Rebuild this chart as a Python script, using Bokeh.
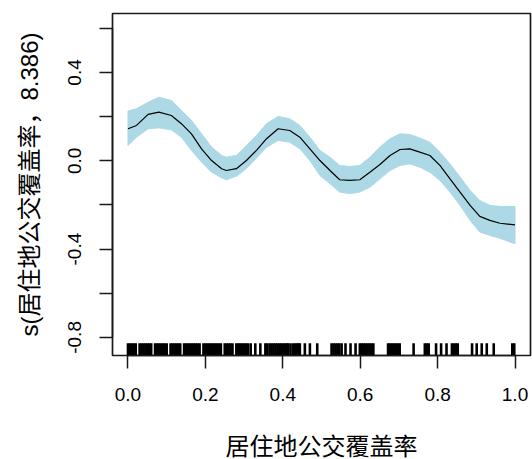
from bokeh.plotting import figure
from bokeh.models import Range1d, FixedTicker, NumeralTickFormatter
from bokeh.embed import file_html
from bokeh.resources import INLINE

# smooth term estimate and confidence band
xs = [0.000, 0.022, 0.052, 0.080, 0.112, 0.138, 0.164, 0.190, 0.216, 0.242,
      0.254, 0.280, 0.306, 0.332, 0.358, 0.388, 0.418, 0.444, 0.470, 0.496,
      0.522, 0.547, 0.573, 0.599, 0.625, 0.651, 0.677, 0.703, 0.728, 0.754,
      0.780, 0.806, 0.832, 0.858, 0.884, 0.909, 0.935, 0.961, 1.000]
fit = [0.145, 0.160, 0.210, 0.220, 0.205, 0.168, 0.122, 0.054, 0.001, -0.036,
       -0.044, -0.036, 0.001, 0.047, 0.100, 0.145, 0.137, 0.107, 0.054, 0.001,
       -0.044, -0.086, -0.089, -0.086, -0.052, -0.017, 0.024, 0.051, 0.054, 0.039,
       0.024, -0.021, -0.082, -0.142, -0.202, -0.252, -0.270, -0.283, -0.290]
upper = [0.225, 0.236, 0.265, 0.288, 0.273, 0.228, 0.183, 0.122, 0.062, 0.024,
         0.016, 0.024, 0.069, 0.115, 0.168, 0.201, 0.190, 0.160, 0.107, 0.047,
         0.016, -0.021, -0.026, -0.021, 0.016, 0.062, 0.100, 0.122, 0.119, 0.103,
         0.084, 0.039, -0.014, -0.074, -0.135, -0.180, -0.202, -0.207, -0.207]
lower = [0.069, 0.107, 0.145, 0.149, 0.140, 0.107, 0.047, -0.006, -0.052, -0.077,
         -0.086, -0.070, -0.035, 0.012, 0.061, 0.092, 0.084, 0.054, 0.001, -0.067,
         -0.104, -0.142, -0.149, -0.142, -0.120, -0.082, -0.044, -0.021, -0.014, -0.029,
         -0.052, -0.089, -0.142, -0.202, -0.270, -0.323, -0.338, -0.351, -0.376]

# rug of observed covariate values
rug = [0.000, 0.005, 0.010, 0.015, 0.020, 0.030, 0.035, 0.040, 0.045, 0.050,
       0.055, 0.060, 0.070, 0.075, 0.080, 0.085, 0.090, 0.095, 0.100, 0.110,
       0.115, 0.120, 0.125, 0.130, 0.135, 0.145, 0.150, 0.155, 0.160, 0.165,
       0.170, 0.175, 0.180, 0.185, 0.195, 0.200, 0.205, 0.210, 0.215, 0.220,
       0.225, 0.230, 0.235, 0.240, 0.250, 0.255, 0.260, 0.265, 0.270, 0.280,
       0.285, 0.290, 0.295, 0.300, 0.305, 0.310, 0.317, 0.329, 0.342, 0.355,
       0.360, 0.366, 0.371, 0.376, 0.381, 0.386, 0.391, 0.396, 0.401, 0.406,
       0.411, 0.414, 0.420, 0.427, 0.432, 0.437, 0.441, 0.444, 0.457, 0.470,
       0.489, 0.526, 0.531, 0.536, 0.541, 0.546, 0.552, 0.562, 0.575, 0.588,
       0.599, 0.604, 0.609, 0.614, 0.619, 0.624, 0.629, 0.634, 0.672, 0.677,
       0.682, 0.687, 0.692, 0.697, 0.702, 0.738, 0.767, 0.772, 0.777, 0.796,
       0.809, 0.823, 0.837, 0.842, 0.847, 0.852, 0.889, 0.901, 0.914, 0.927,
       0.945, 0.993, 0.998]

x_ticks = [0.0, 0.2, 0.4, 0.6, 0.8, 1.0]
y_ticks = [-0.8, -0.6, -0.4, -0.2, 0.0, 0.2, 0.4, 0.6]
y_hidden = [-0.6, -0.2, 0.2, 0.6]

x_title = "居住地公交覆盖率"
y_title = "s(居住地公交覆盖率，8.386)"

Y0, Y1 = -0.882, 0.667

p = figure(width=532, height=459, output_backend="svg", toolbar_location=None,
           x_range=Range1d(-0.04, 1.04), y_range=Range1d(Y0, Y1),
           frame_width=418, frame_height=342,
           min_border_left=112, min_border_right=2, min_border_top=13, min_border_bottom=104)
p.background_fill_color = "white"
p.border_fill_color = "white"
p.grid.visible = False
p.outline_line_color = "#1a1a1a"
p.outline_line_width = 1.7

band_x = xs + xs[::-1]
band_y = upper + lower[::-1]
p.patch(band_x, band_y, fill_color="#ADD8E6", line_color="#ADD8E6", line_width=1)
p.line(xs, fit, line_color="black", line_width=1.2)

rug_len = 0.055
p.segment(x0=rug, y0=[Y0] * len(rug), x1=rug, y1=[Y0 + rug_len] * len(rug),
          line_color="black", line_width=2.6)

FONT = "Liberation Sans, Noto Sans CJK SC"
for ax in (p.xaxis[0], p.yaxis[0]):
    ax.axis_line_color = "#1a1a1a"
    ax.axis_line_width = 1.5
    ax.major_tick_line_color = "#1a1a1a"
    ax.major_tick_line_width = 1.5
    ax.major_tick_out = 13
    ax.major_tick_in = 0
    ax.minor_tick_line_color = None
    ax.major_label_text_font = FONT
    ax.major_label_text_font_size = "19px"
    ax.major_label_text_color = "black"
    ax.axis_label_text_font = FONT
    ax.axis_label_text_font_size = "24px"
    ax.axis_label_text_font_style = "normal"
    ax.axis_label_text_color = "black"
    ax.formatter = NumeralTickFormatter(format="0.0")

xa = p.xaxis[0]
xa.ticker = FixedTicker(ticks=x_ticks)
xa.bounds = (x_ticks[0], x_ticks[-1])
xa.axis_label = x_title
xa.major_label_standoff = 19
xa.axis_label_standoff = 29

ya = p.yaxis[0]
ya.ticker = FixedTicker(ticks=y_ticks)
ya.bounds = (y_ticks[0], y_ticks[-1])
ya.major_label_overrides = {v: "" for v in y_hidden}
ya.major_label_orientation = "vertical"
ya.axis_label = y_title
ya.major_label_standoff = 18
ya.axis_label_standoff = 23

open("out.html", "w").write(file_html(p, INLINE))
